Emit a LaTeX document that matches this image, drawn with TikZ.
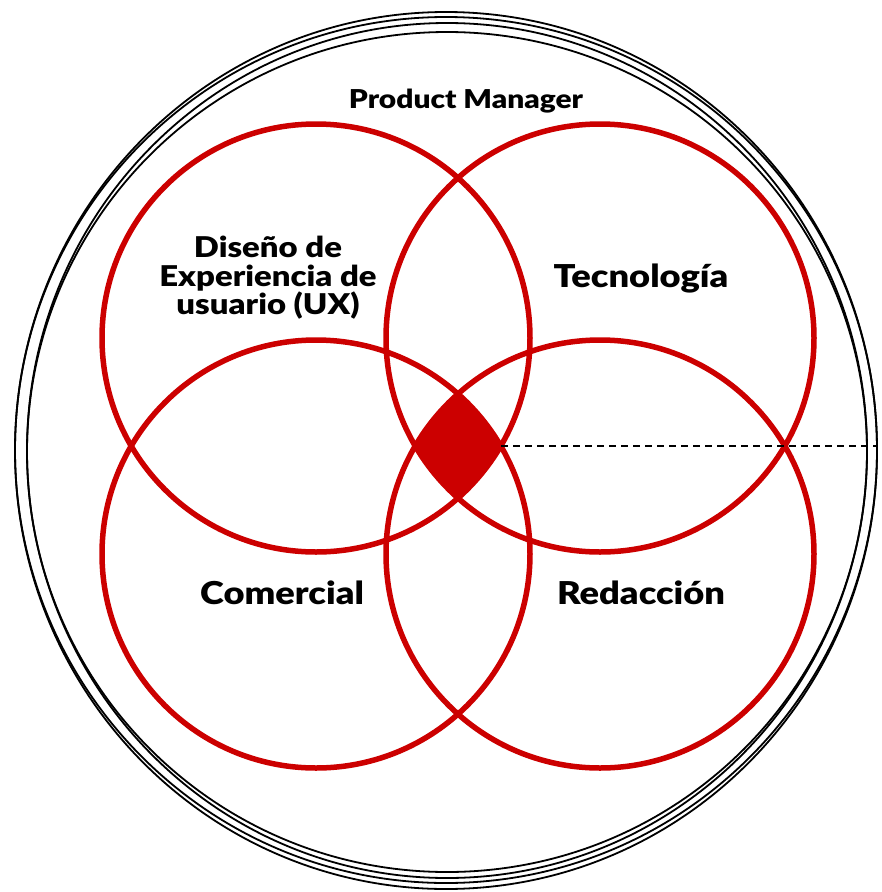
\documentclass[tikz,border=0pt]{standalone}
\usepackage{fontspec}
\setmainfont{Lato}[BoldFont={Lato Black},BoldFeatures={FakeStretch=1.15}]
\definecolor{vennred}{RGB}{204,0,0}

\begin{document}
\begin{tikzpicture}[x=1pt,y=-1pt,
    venn/.style={draw=vennred,line width=5.5pt},
    rim/.style={draw=black,line width=1.8pt},
    tag/.style={font=\fontsize{31.5}{28.5}\selectfont\bfseries,align=center,inner sep=0pt}]
	%%%%% START %%%%%
	
	\useasboundingbox[fill=white] (0,0) rectangle (882,892);
	
	\coordinate (disenio) at (316,338);
	\coordinate (tecno) at (600,338);
	\coordinate (comer) at (316,554);
	\coordinate (redac) at (600,554);
	
	% centro comun
	\begin{scope}
		\clip (disenio) circle (214pt);
		\clip (tecno) circle (214pt);
		\clip (comer) circle (214pt);
		\fill[vennred] (redac) circle (214pt);
	\end{scope}
	
	\draw[venn] (disenio) circle (214pt);
	\draw[venn] (tecno) circle (214pt);
	\draw[venn] (comer) circle (214pt);
	\draw[venn] (redac) circle (214pt);
	
	% borde exterior
	\draw[rim] (446,450.5) ellipse (431pt and 438.5pt);
	\draw[rim] (446,450) ellipse (431pt and 433pt);
	\draw[rim] (447,450.5) ellipse (420pt and 427.5pt);
	\draw[rim] (447,452) ellipse (420pt and 420pt);
	
	\coordinate (centro-e) at (501,446);
	\coordinate (borde-e) at (877,446);
	\draw[line width=1.5pt, dash pattern=on 6.5pt off 5.5pt] (centro-e) -- (borde-e);
	
	\node[tag, font=\fontsize{26}{26}\selectfont\bfseries] (pm) at (466,101) {Product Manager};
	\node[tag, font=\fontsize{28.6}{28.5}\selectfont\bfseries] (disenio-l) at (268,278) {Diseño de\\Experiencia de\\usuario (UX)};
	\node[tag] (tecno-l) at (641,279) {Tecnología};
	\node[tag] (comer-l) at (282,593) {Comercial};
	\node[tag] (redac-l) at (641,593) {Redacción};
	
	%%%%% END %%%%%
\end{tikzpicture}
\end{document}
